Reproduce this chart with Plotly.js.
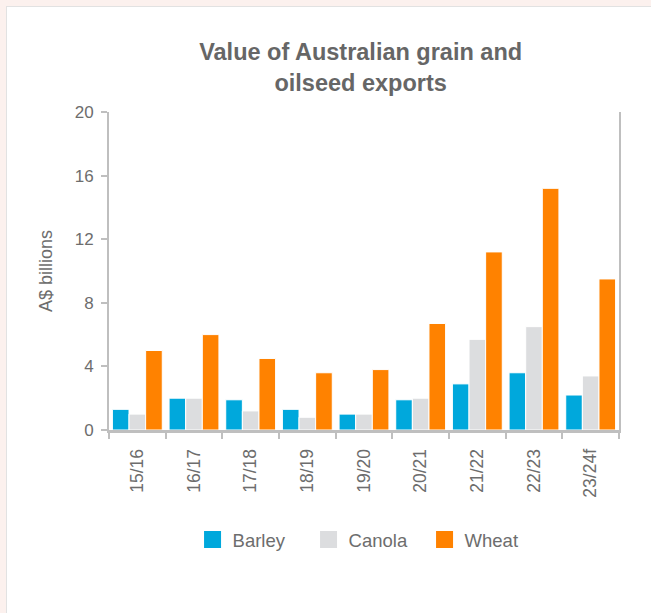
<!DOCTYPE html>
<html>
<head>
<meta charset="utf-8">
<script src="https://cdn.plot.ly/plotly-3.0.1.min.js"></script>
<style>
  html, body { margin: 0; padding: 0; width: 651px; height: 613px; overflow: hidden; background: #fcf1ee; }
  #card { position: absolute; left: 6px; top: 6px; width: 680px; height: 640px; background: #ffffff; border: 1px solid #e2e2e2; box-sizing: border-box; }
  #chart { position: absolute; left: 0; top: 0; width: 651px; height: 613px; }
</style>
</head>
<body>
<div id="card"></div>
<div id="chart"></div>
<script>
const categories = ["15/16", "16/17", "17/18", "18/19", "19/20", "20/21", "21/22", "22/23", "23/24f"];
const barley = [1.3, 2.0, 1.9, 1.3, 1.0, 1.9, 2.9, 3.6, 2.2];
const canola = [1.0, 2.0, 1.2, 0.8, 1.0, 2.0, 5.7, 6.5, 3.4];
const wheat  = [5.0, 6.0, 4.5, 3.6, 3.8, 6.7, 11.2, 15.2, 9.5];
const yTicks = [0, 4, 8, 12, 16, 20];

const grey = "#6d6d6d";
const axisGrey = "#bfbfbf";

function series(name, values, color) {
  return {
    type: "bar", name: name, x: categories, y: values,
    marker: { color: color, line: { color: "#ffffff", width: 1 } },
    hoverinfo: "skip"
  };
}

const data = [
  series("Barley", barley, "#00a8dc"),
  series("Canola", canola, "#dcdddf"),
  series("Wheat", wheat, "#ff8200")
];

const layout = {
  width: 651, height: 613,
  paper_bgcolor: "rgba(0,0,0,0)",
  plot_bgcolor: "rgba(0,0,0,0)",
  margin: { l: 109, r: 32, t: 112, b: 183, pad: 0 },
  font: { family: "Liberation Sans, Arial, sans-serif", color: grey, size: 16 },
  title: {
    text: "Value of Australian grain and<br>oilseed exports",
    font: { size: 23.5, color: "#666666", family: "Liberation Sans, Arial, sans-serif", weight: "bold" },
    x: 0.554, xanchor: "center", xref: "container",
    y: 0.902, yanchor: "middle", yref: "container"
  },
  barmode: "group",
  bargap: 0.12,
  bargroupgap: 0,
  showlegend: true,
  legend: {
    orientation: "h", x: 0.505, xanchor: "center", y: -0.346, yanchor: "middle",
    font: { size: 18.5, color: grey }, entrywidth: 71, entrywidthmode: "pixels",
    bgcolor: "rgba(0,0,0,0)"
  },
  xaxis: {
    type: "category",
    tickangle: -90,
    tickson: "boundaries",
    ticks: "outside", ticklen: 6, tickwidth: 2, tickcolor: axisGrey,
    ticklabelstandoff: 9,
    showline: true, linecolor: axisGrey, linewidth: 3,
    showgrid: false, zeroline: false,
    tickfont: { size: 17.5, color: grey },
    fixedrange: true
  },
  yaxis: {
    range: [0, 20],
    tickvals: yTicks,
    ticktext: yTicks.map(String),
    ticks: "outside", ticklen: 6, tickwidth: 2, tickcolor: axisGrey,
    ticklabelstandoff: 4,
    showline: true, linecolor: axisGrey, linewidth: 2, mirror: true,
    showgrid: false, zeroline: false,
    tickfont: { size: 17, color: grey },
    title: { text: "A$ billions", font: { size: 18, color: grey }, standoff: 17 },
    fixedrange: true
  }
};

Plotly.newPlot("chart", data, layout, { displayModeBar: false, staticPlot: true }).then(function (gd) {
  // enlarge legend swatches to match the reference's square markers
  gd.querySelectorAll(".legendpoints path").forEach(function (p) {
    p.setAttribute("d", "M8.5,8.5H-8.5V-8.5H8.5Z");
    p.style.strokeWidth = "0";
  });
});
</script>
</body>
</html>
